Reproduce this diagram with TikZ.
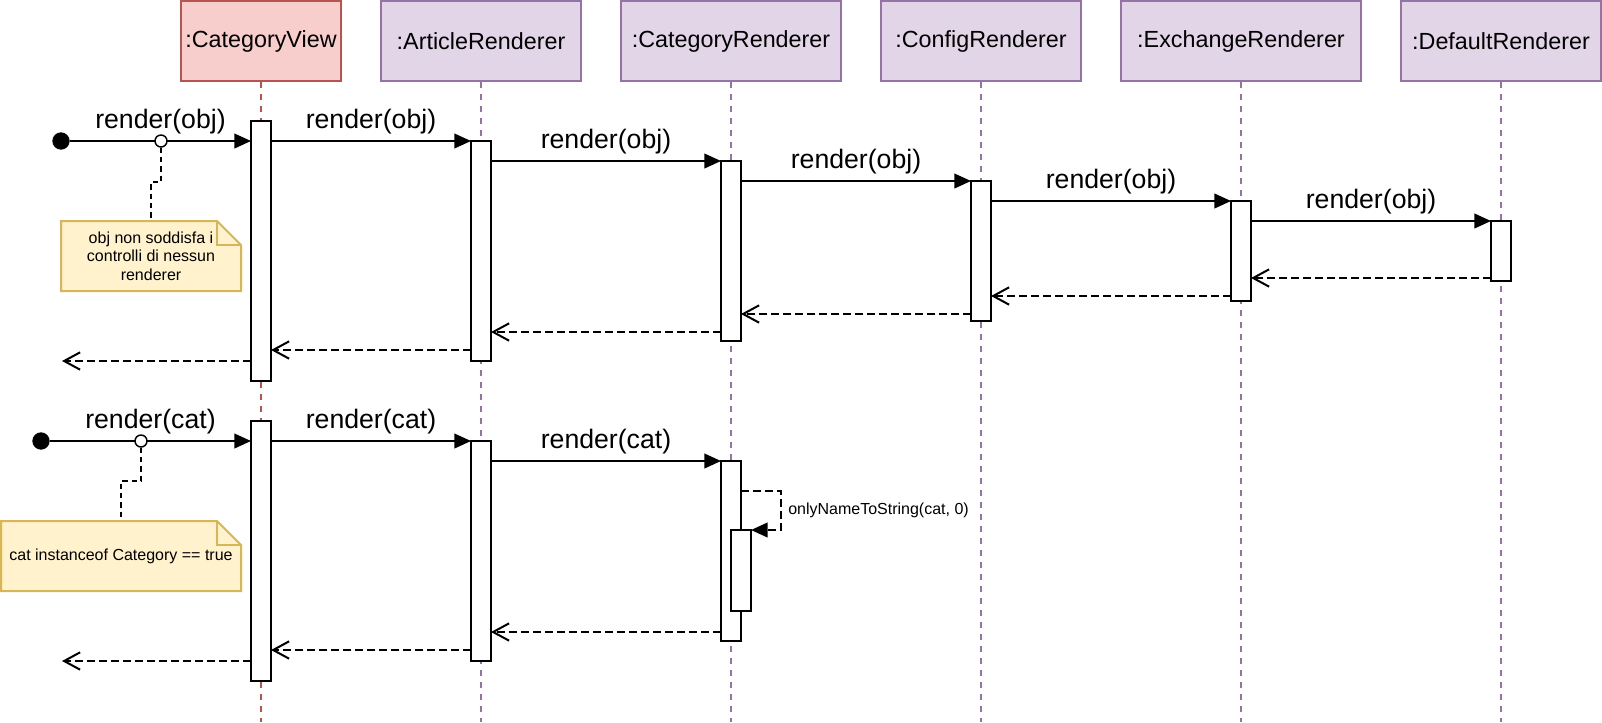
\documentclass[tikz,border=0pt]{standalone}
\usepackage{fontspec}
\setmainfont{Liberation Sans}
\usetikzlibrary{arrows.meta}
\usetikzlibrary{backgrounds}

\definecolor{viewfill}{HTML}{F8CECC}
\definecolor{viewline}{HTML}{B85450}
\definecolor{rendfill}{HTML}{E1D5E7}
\definecolor{rendline}{HTML}{9673A6}
\definecolor{notefill}{HTML}{FFF2CC}
\definecolor{noteline}{HTML}{D6B656}

\tikzset{
  objbox/.style={rectangle, line width=1.5pt, minimum height=60pt, inner sep=0pt,
    font=\fontsize{17.5}{20}\selectfont},
  viewbox/.style={objbox, draw=viewline, fill=viewfill, minimum width=120pt},
  rendbox/.style={objbox, draw=rendline, fill=rendfill},
  life/.style={line width=1.2pt, dash pattern=on 4.5pt off 4.5pt},
  act/.style={rectangle, draw, fill=white, line width=1.5pt, minimum width=15pt, inner sep=0pt, outer sep=0pt},
  msg/.style={line width=1.5pt, -{Triangle[length=12.5pt, width=11pt]}},
  ret/.style={line width=1.5pt, dash pattern=on 6pt off 3pt, -{Straight Barb[length=12pt, width=13pt]}},
  selfcall/.style={line width=1.5pt, dash pattern=on 6pt off 3pt, -{Triangle[length=12.5pt, width=11pt]}},
  lbl/.style={font=\fontsize{20}{24}\selectfont, anchor=base, yshift=9.75pt, inner sep=0pt},
  note/.style={rectangle, inner sep=0pt, outer sep=0pt, align=center, font=\fontsize{12}{14}\selectfont,
    minimum width=135pt, minimum height=52.5pt},
  notebg/.style={fill=notefill, draw=noteline, line width=1.5pt},
  notelink/.style={line width=1.2pt, dash pattern=on 4pt off 3pt},
  startdot/.style={circle, fill=black, minimum size=13pt, inner sep=0pt},
  gate/.style={circle, draw, fill=white, line width=1.1pt, minimum size=9pt, inner sep=0pt}
}

\begin{document}
\begin{tikzpicture}[x=0.75pt, y=-0.75pt]
\def\bottom{722}
\def\fold{24}
\useasboundingbox (0,0) rectangle (1602,\bottom);

\node[viewbox] (cv) at (261,41) {:CategoryView};
\node[rendbox, minimum width=150pt] (ar) at (481,41) {:ArticleRenderer};
\node[rendbox, minimum width=165pt] (cr) at (731,41) {:CategoryRenderer};
\node[rendbox, minimum width=150pt] (cfg) at (981,41) {:ConfigRenderer};
\node[rendbox, minimum width=180pt] (ex) at (1241,41) {:ExchangeRenderer};
\node[rendbox, minimum width=150pt] (df) at (1501,41) {:DefaultRenderer};

\foreach \o/\c in {cv/viewline, ar/rendline, cr/rendline, cfg/rendline, ex/rendline, df/rendline}
  \draw[life, draw=\c] (\o.south) -- (\o.south |- 0,\bottom);

\foreach \n/\x/\t/\b in {a1/261/121/381, a2/481/141/361, a3/731/161/341, a4/981/181/321,
    a5/1241/201/301, a6/1501/221/281, b1/261/421/681, b2/481/441/661, b3/731/461/641, b4/741/530/611}
  \node[act, minimum height={(\b-\t)*0.75pt}] (\n) at (\x,{(\t+\b)/2}) {};

% render(obj)
\node[startdot] (s1) at (61,141) {};
\draw[msg] (s1) -- (s1 -| a1.west) node[lbl, midway] {render(obj)};
\node[gate] (g1) at (161,141) {};
\draw[msg] (a1.east |- 0,141) -- (a2.north west) node[lbl, midway] {render(obj)};
\draw[msg] (a2.east |- 0,161) -- (a3.north west) node[lbl, midway] {render(obj)};
\draw[msg] (a3.east |- 0,181) -- (a4.north west) node[lbl, midway] {render(obj)};
\draw[msg] (a4.east |- 0,201) -- (a5.north west) node[lbl, midway] {render(obj)};
\draw[msg] (a5.east |- 0,221) -- (a6.north west) node[lbl, midway] {render(obj)};

\foreach \f/\t/\y in {a6/a5/278, a5/a4/296, a4/a3/314, a3/a2/332, a2/a1/350}
  \draw[ret] (\f.west |- 0,\y) -- (\t.east |- 0,\y);
\coordinate (o1) at (62,361);
\draw[ret] (a1.west |- o1) -- (o1);

\node[note] (n1) at (151,256) {obj non soddisfa i\\controlli di nessun\\renderer};
\begin{scope}[on background layer]
\filldraw[notebg] (n1.north west) -- ([xshift=-18pt]n1.north east) -- ([yshift=-18pt]n1.north east)
  -- (n1.south east) -- (n1.south west) -- cycle;
\draw[noteline, line width=1.5pt] ([xshift=-18pt]n1.north east) -- ++(0,\fold) -- ([yshift=-18pt]n1.north east);
\end{scope}
\draw[notelink] (g1) -- (g1 |- 0,182) -| (n1.north);

% render(cat)
\node[startdot] (s2) at (41,441) {};
\draw[msg] (s2) -- (s2 -| b1.west) node[lbl, midway] {render(cat)};
\node[gate] (g2) at (141,441) {};
\draw[msg] (b1.east |- 0,441) -- (b2.north west) node[lbl, midway] {render(cat)};
\draw[msg] (b2.east |- 0,461) -- (b3.north west) node[lbl, midway] {render(cat)};

\coordinate (sc) at (781,491);
\draw[selfcall] (b3.east |- sc) -- (sc) |- (b4.north east);
\node[anchor=west, inner sep=0pt, font=\fontsize{12}{14}\selectfont] (sclbl) at (788,510) {onlyNameToString(cat, 0)};

\foreach \f/\t/\y in {b3/b2/632, b2/b1/650}
  \draw[ret] (\f.west |- 0,\y) -- (\t.east |- 0,\y);
\coordinate (o2) at (62,661);
\draw[ret] (b1.west |- o2) -- (o2);

\node[note, minimum width=180pt] (n2) at (121,556) {cat instanceof Category == true};
\begin{scope}[on background layer]
\filldraw[notebg] (n2.north west) -- ([xshift=-18pt]n2.north east) -- ([yshift=-18pt]n2.north east)
  -- (n2.south east) -- (n2.south west) -- cycle;
\draw[noteline, line width=1.5pt] ([xshift=-18pt]n2.north east) -- ++(0,\fold) -- ([yshift=-18pt]n2.north east);
\end{scope}
\draw[notelink] (g2) -- (g2 |- 0,481) -| (n2.north);
\end{tikzpicture}
\end{document}
